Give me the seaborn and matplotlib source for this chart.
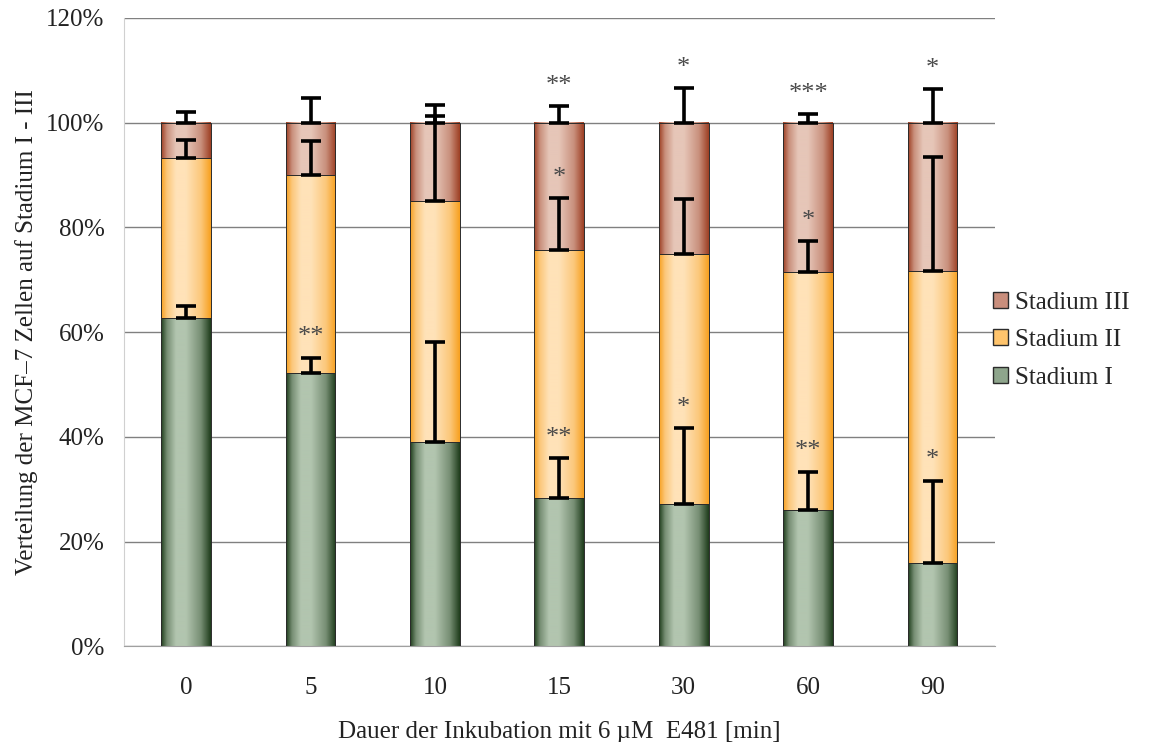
import numpy as np
import matplotlib
matplotlib.use("Agg")
import matplotlib.pyplot as plt
from matplotlib.colors import LinearSegmentedColormap, to_rgb
from matplotlib.patches import Patch
import seaborn as sns

# Data (percent of MCF-7 cells per stage)
categories = ["0", "5", "10", "15", "30", "60", "90"]
stadium_1 = [62.6, 52.2, 39.0, 28.4, 27.1, 26.0, 15.9]
stadium_2 = [30.7, 37.8, 46.1, 47.3, 47.8, 45.5, 55.8]
stadium_3 = [6.7, 10.0, 14.9, 24.3, 25.1, 28.5, 28.3]
err_1 = [2.3, 2.9, 19.1, 7.5, 14.5, 7.3, 15.7]
err_2 = [3.4, 6.4, 16.1, 9.8, 10.5, 5.8, 21.8]
err_3 = [2.1, 4.7, 3.4, 3.1, 6.6, 1.6, 6.4]
stars_1 = ["", "**", "", "**", "*", "**", "*"]
stars_2 = ["", "", "", "*", "", "*", ""]
stars_3 = ["", "", "", "**", "*", "***", "*"]
series_names = ["Stadium I", "Stadium II", "Stadium III"]
y_ticks = [0, 20, 40, 60, 80, 100, 120]

sns.set_style("white")
plt.rcParams["font.family"] = ["Liberation Serif", "DejaVu Serif"]

# gradient colours: (edge, centre, legend colour)
grad_colors = [
    ("#1f3d1c", "#b2c5af", "#8ea58c"),
    ("#f7a020", "#ffe2b8", "#ffc46c"),
    ("#9e4024", "#e6c6b8", "#c98e7c"),
]


def mix(a, b, t):
    a, b = np.array(to_rgb(a)), np.array(to_rgb(b))
    return tuple(a + (b - a) * t)


fig = plt.figure(figsize=(11.58, 7.42), dpi=100)
ax = fig.add_axes([0.107, 0.129, 0.752, 0.847])

bottoms = np.zeros(len(categories))
series = [stadium_1, stadium_2, stadium_3]
errs = [err_1, err_2, err_3]
stars = [stars_1, stars_2, stars_3]
tops = []
for i, vals in enumerate(series):
    n_before = len(ax.patches)
    sns.barplot(x=categories, y=vals, bottom=bottoms.copy(), width=0.4,
                color=grad_colors[i][1], edgecolor="#2b2b2b", linewidth=0.7,
                errorbar=None, ax=ax, zorder=3)
    dark, light = grad_colors[i][0], grad_colors[i][1]
    cmap = LinearSegmentedColormap.from_list(
        f"g{i}", [(0, dark), (0.12, mix(dark, light, 0.6)), (0.3, light),
                  (0.5, light), (0.8, mix(dark, light, 0.6)), (1, dark)])
    grad = np.linspace(0, 1, 200).reshape(1, -1)
    for p in ax.patches[n_before:]:
        x0, y0 = p.get_x(), p.get_y()
        ax.imshow(grad, cmap=cmap, extent=[x0, x0 + p.get_width(), y0, y0 + p.get_height()],
                  aspect="auto", zorder=2.5, interpolation="bilinear")
        p.set_facecolor("none")
    bottoms = bottoms + np.array(vals)
    tops.append(bottoms.copy())

# error bars (upper only) and significance stars
xpos = np.arange(len(categories))
for i in range(3):
    e = np.array(errs[i])
    ax.errorbar(xpos, tops[i], yerr=[np.zeros_like(e), e], fmt="none",
                ecolor="black", elinewidth=2.6, capsize=7, capthick=2.6, zorder=5)
    for x, t, ee, s in zip(xpos, tops[i], e, stars[i]):
        if s:
            ax.text(x, t + ee + 3.9, s, ha="center", va="center", fontsize=19,
                    color="#4a4a4a", zorder=6)

ax.set_xlim(-0.5, len(categories) - 0.5)
ax.set_ylim(0, 120)
ax.set_yticks(y_ticks)
ax.set_yticklabels([f"{t}%" for t in y_ticks])
ax.yaxis.grid(True, color="#808080", linewidth=1)
ax.set_axisbelow(True)
ax.set_xticks(xpos)
ax.set_xticklabels(categories)
ax.set_xticks(np.arange(-0.5, len(categories)), minor=True)
ax.tick_params(axis="x", which="major", length=0, labelsize=18, pad=22, labelcolor="#222222")
ax.tick_params(axis="x", which="minor", length=6, color="#c8c8c8", direction="out")
ax.tick_params(axis="y", length=6, color="#555555", direction="out", labelsize=18,
               labelcolor="#222222", pad=8)
for side in ["top", "right"]:
    ax.spines[side].set_visible(False)
ax.spines["left"].set_color("#d0d0d0")
ax.spines["bottom"].set_color("#a0a0a0")

ax.set_xlabel("Dauer der Inkubation mit 6 µM  E481 [min]", fontsize=18, labelpad=16,
              color="#222222")
ax.set_ylabel("Verteilung der MCF–7 Zellen auf Stadium I - III", fontsize=18,
              labelpad=6, color="#222222")

handles = [Patch(facecolor=grad_colors[i][2], edgecolor="#2b2b2b", linewidth=1)
           for i in range(3)][::-1]
ax.legend(handles, series_names[::-1], loc="center left", bbox_to_anchor=(0.992, 0.487),
          frameon=False, fontsize=18, handlelength=0.6, handleheight=0.6,
          handletextpad=0.3, labelspacing=0.62, borderaxespad=0.0, borderpad=0.2)

fig.savefig("out.png", dpi=100)
